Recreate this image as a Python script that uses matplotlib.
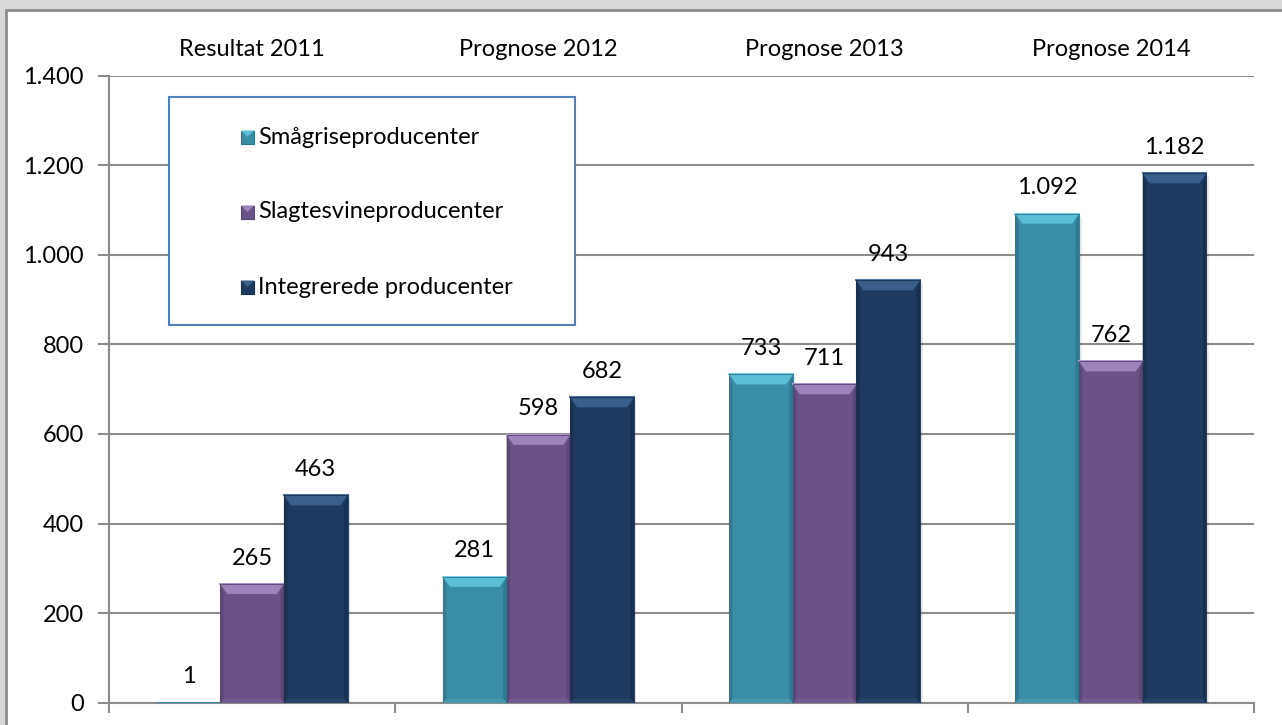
import matplotlib
matplotlib.use("Agg")
import matplotlib.pyplot as plt
from matplotlib.patches import Rectangle, Polygon
import numpy as np

categories = ["Resultat 2011", "Prognose 2012", "Prognose 2013", "Prognose 2014"]
series_names = ["Smågriseproducenter", "Slagtesvineproducenter", "Integrerede producenter"]
smaagrise = [1, 281, 733, 1092]
slagtesvin = [265, 598, 711, 762]
integrerede = [463, 682, 943, 1182]
y_ticks = [0, 200, 400, 600, 800, 1000, 1200, 1400]

series_values = [smaagrise, slagtesvin, integrerede]
body_colors = ["#3A8DA6", "#6A5287", "#1F3A61"]
top_colors = ["#5BBFD8", "#9C83BB", "#3A5F8D"]
edge_colors = ["#7AD6EC", "#B59DD3", "#4F77A6"]
side_colors = ["#2F7890", "#5A4475", "#18304F"]
bottom_colors = ["#4797AF", "#735C90", "#27446B"]

plt.rcParams['font.family'] = ['Lato', 'DejaVu Sans']
FS = 17

W, H = 1282, 725
fig = plt.figure(figsize=(W / 100, H / 100), dpi=100)
fig.patch.set_facecolor("#D9D9D9")

# chart area (white with grey border)
fig.patches.append(Rectangle((6 / W, -0.2), 1.2, (H - 10) / H + 0.2,
                             transform=fig.transFigure, facecolor="white",
                             edgecolor="#8C8C8C", linewidth=2, zorder=-5))

ax_l, ax_r, ax_b, ax_t = 109, 1254, 725 - 702.7, 725 - 75.7
ax = fig.add_axes([ax_l / W, ax_b / H, (ax_r - ax_l) / W, (ax_t - ax_b) / H])
ax.set_facecolor("none")
ax.set_zorder(1)

n = len(categories)
ax.set_xlim(-0.5, n - 0.5)
ax.set_ylim(0, 1400)

# px per data unit
px_x = (ax_r - ax_l) / n
px_y = (ax_t - ax_b) / 1400.0

gap = 1.5
bw = 1.0 / (3 + gap)
x = np.arange(n)
for i, vals in enumerate(series_values):
    xs = x + (i - 1) * bw
    ax.bar(xs, vals, width=bw, color=body_colors[i], edgecolor="none", zorder=3)
    dx = 7 / px_x
    dy = 10 / px_y
    db = 4 / px_y
    for xc, v in zip(xs, vals):
        x0, x1 = xc - bw / 2, xc + bw / 2
        if v * px_y < 14:
            continue
        ax.add_patch(Polygon([(x0, 0), (x0, v), (x0 + dx * 0.5, v - dy), (x0 + dx * 0.5, db)],
                             closed=True, facecolor=side_colors[i], edgecolor="none", zorder=4, alpha=0.8))
        ax.add_patch(Polygon([(x1, 0), (x1, v), (x1 - dx * 0.5, v - dy), (x1 - dx * 0.5, db)],
                             closed=True, facecolor=side_colors[i], edgecolor="none", zorder=4, alpha=0.9))
        ax.add_patch(Polygon([(x0, 0), (x1, 0), (x1 - dx * 0.5, db), (x0 + dx * 0.5, db)],
                             closed=True, facecolor=bottom_colors[i], edgecolor="none", zorder=4))
        ax.add_patch(Polygon([(x0, v), (x1, v), (x1 - dx, v - dy), (x0 + dx, v - dy)],
                             closed=True, facecolor=top_colors[i], edgecolor="none", zorder=5))
        ax.plot([x0, x1], [v, v], color=edge_colors[i], lw=1.5, zorder=6)
        ax.plot([x0, x0, x1, x1], [0, v, v, 0], color=side_colors[i], lw=0.8, zorder=6, alpha=0.9)
        # soft shadow right of bar
        ax.add_patch(Rectangle((x1, 0), 2.5 / px_x, v - 3 / px_y, facecolor="#000000",
                               alpha=0.08, edgecolor="none", zorder=2.5))
    for xc, v in zip(xs, vals):
        lbl = f"{v:,}".replace(",", ".")
        ax.annotate(lbl, (xc, v), xytext=(0, 26), textcoords="offset pixels",
                    ha="center", va="center", fontsize=FS, color="black", zorder=7)

ax.set_yticks(y_ticks)
ax.set_yticklabels([f"{t:,}".replace(",", ".") for t in y_ticks], fontsize=FS)
ax.yaxis.grid(True, color="#8C8C8C", linewidth=1.5, zorder=1)
ax.set_axisbelow(True)

for s in ["top", "right"]:
    ax.spines[s].set_visible(False)
for s in ["left", "bottom"]:
    ax.spines[s].set_color("#8C8C8C")
    ax.spines[s].set_linewidth(1.5)
    ax.spines[s].set_zorder(2)

ax.tick_params(axis="y", length=8, width=1.5, color="#8C8C8C", pad=10, labelsize=FS)
ax.set_xticks(x)
ax.set_xticklabels(categories, fontsize=FS)
ax.tick_params(axis="x", which="major", length=0, top=False, bottom=False,
               labeltop=True, labelbottom=False, pad=11)
ax.set_xticks(np.arange(n + 1) - 0.5, minor=True)
ax.tick_params(axis="x", which="minor", length=7, width=1.5, color="#8C8C8C", bottom=True)

# legend (manual)
lx0, ly0, lx1, ly1 = 169, 97, 575, 325
fig.patches.append(Rectangle((lx0 / W, 1 - ly1 / H), (lx1 - lx0) / W, (ly1 - ly0) / H,
                             transform=fig.transFigure, facecolor="white",
                             edgecolor="#4F81BD", linewidth=1.5, zorder=8))
rows = [137, 212, 287]
sq = 13
for i, (name, yr) in enumerate(zip(series_names, rows)):
    fig.patches.append(Rectangle((241 / W, 1 - (yr + sq / 2) / H), sq / W, sq / H,
                                 transform=fig.transFigure, facecolor=body_colors[i],
                                 edgecolor=side_colors[i], linewidth=0.8, zorder=9))
    fig.patches.append(Polygon([((241) / W, 1 - (yr - sq / 2) / H), ((241 + sq) / W, 1 - (yr - sq / 2) / H),
                                ((241 + sq / 2) / W, 1 - yr / H)], closed=True,
                               transform=fig.transFigure, facecolor=top_colors[i],
                               edgecolor="none", zorder=10))
    fig.text(258 / W, 1 - yr / H, name, ha="left", va="center", fontsize=FS, zorder=11)

fig.savefig("out.png", dpi=100, facecolor=fig.get_facecolor())
